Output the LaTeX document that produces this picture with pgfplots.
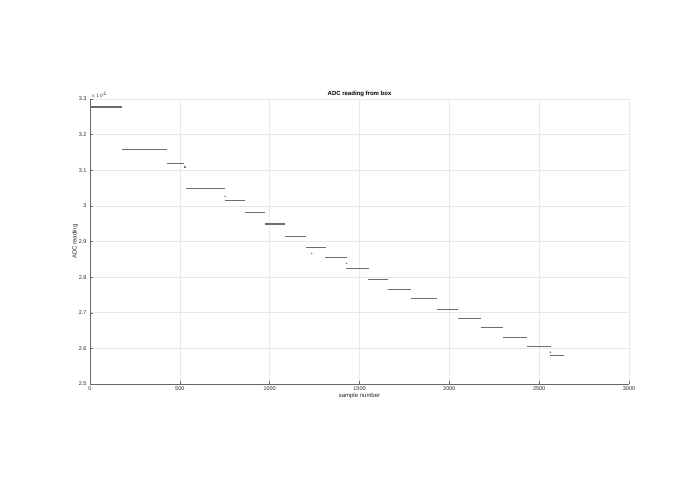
\documentclass[border=0pt]{standalone}
\usepackage{pgfplots}
\pgfplotsset{compat=1.18}
\usepackage{fontspec}
\setmainfont{Liberation Sans}
\definecolor{datac}{RGB}{118,105,100}
\definecolor{axc}{RGB}{38,38,38}
\begin{document}
\begin{tikzpicture}
\useasboundingbox (0,0) rectangle (695pt,494pt);
\begin{axis}[
  at={(90pt,110pt)}, anchor=south west,
  width=539pt, height=285pt, scale only axis,
  xmin=0, xmax=3000, ymin=25000, ymax=33000,
  xtick={0,500,...,3000},
  ytick={25000,26000,27000,28000,29000,30000,31000,32000,33000},
  yticklabels={2.5,2.6,2.7,2.8,2.9,3,3.1,3.2,3.3},
  scaled y ticks=false,
  /pgf/number format/1000 sep={},
  axis x line*=bottom, axis y line*=left,
  axis line style={draw=gray!80!black, line width=0.5pt},
  tick style={gray!80!black, line width=0.4pt},
  tick align=inside, major tick length=3pt,
  grid=major, major grid style={gray!18, line width=0.5pt},
  ticklabel style={font=\fontsize{5.5}{6}\selectfont, text=axc},
  /pgf/number format/assume math mode=true,
  xticklabel style={yshift=1pt},
  title={\textbf{ADC reading from box}},
  title style={font=\fontsize{6}{7}\selectfont, text=black, yshift=-7pt},
  xlabel={sample number}, ylabel={ADC reading},
  label style={font=\fontsize{6}{7}\selectfont, text=axc},
  xlabel style={yshift=4pt}, ylabel style={yshift=-6pt},
  unbounded coords=jump,
  clip=false,
]
\addplot[datac, line width=1.1pt] table {
x y
0 32775
178 32775
nan nan
180 31590
323 31590
nan nan
323 31575
427 31575
nan nan
427 31195
525 31195
nan nan
534 30500
751 30500
nan nan
751 30163
862 30163
nan nan
862 29826
974 29826
nan nan
974 29490
1085 29490
nan nan
1085 29150
1202 29150
nan nan
1202 28843
1313 28843
nan nan
1308 28553
1370 28553
nan nan
1370 28562
1428 28562
nan nan
1426 28253
1553 28253
nan nan
1549 27944
1660 27944
nan nan
1658 27663
1786 27663
nan nan
1786 27390
1930 27390
nan nan
1930 27093
2049 27093
nan nan
2049 26840
2175 26840
nan nan
2175 26576
2300 26576
nan nan
2300 26315
2434 26315
nan nan
2434 26053
2564 26053
nan nan
2562 25789
2638 25789
};
\addplot[only marks, mark=*, mark size=0.5pt, datac] table {
x y
526 31100
528 31087
531 31080
752 30270
1234 28665
1428 28385
2562 25893
};
\node[anchor=south west, font=\fontsize{4.5}{5}\selectfont, text=axc, inner sep=0.5pt] at (rel axis cs:0,1) {$\times10^{4}$};
\end{axis}
\end{tikzpicture}
\end{document}
